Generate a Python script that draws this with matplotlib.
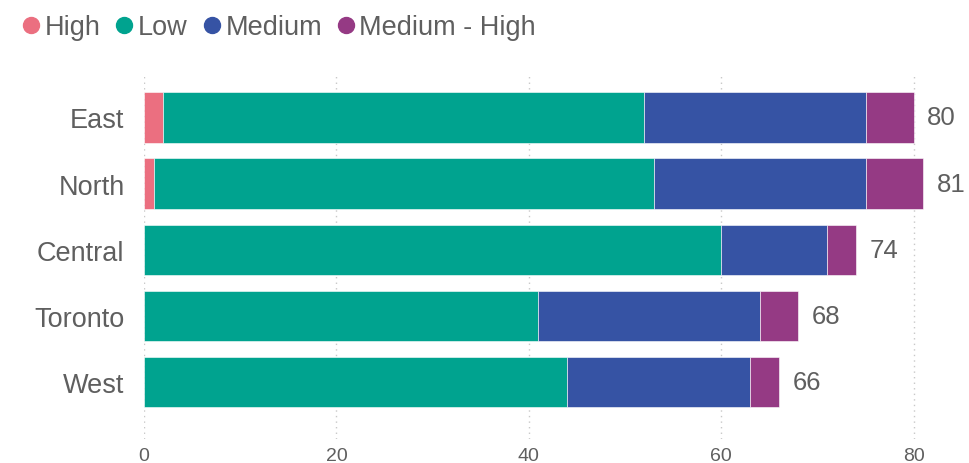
import matplotlib.pyplot as plt
from matplotlib.lines import Line2D
import numpy as np

plt.rcParams['font.family'] = ['Liberation Sans', 'DejaVu Sans']

regions = ['East', 'North', 'Central', 'Toronto', 'West']
high = [2, 1, 0, 0, 0]
low = [50, 52, 60, 41, 44]
medium = [23, 22, 11, 23, 19]
medium_high = [5, 6, 3, 4, 3]

series_names = ['High', 'Low', 'Medium', 'Medium - High']
series_colors = ['#EB6F80', '#00A38F', '#3653A4', '#953A84']
text_gray = '#5F5F5F'

fig = plt.figure(figsize=(9.69, 4.64), dpi=100)
ax = fig.add_axes([0.1486, 0.052, 0.842, 0.787])

y = np.arange(len(regions))
left = np.zeros(len(regions))
for vals, name, col in zip([high, low, medium, medium_high], series_names, series_colors):
    vals = np.array(vals, dtype=float)
    ax.barh(y, vals, left=left, height=0.76, color=col, edgecolor='white', linewidth=0.4, label=name)
    left += vals

# totals at the end of each bar
for yi, tot in zip(y, left):
    ax.text(tot + 1.4, yi, f'{int(tot)}', va='center', ha='left', fontsize=18.5, color=text_gray)

ax.set_xlim(0, 84.8)
ax.set_ylim(4.86, -0.66)
ax.set_yticks(y)
ax.set_yticklabels(regions, fontsize=19.5, color=text_gray)
ax.set_xticks([0, 20, 40, 60, 80])
ax.tick_params(axis='x', labelsize=14, colors=text_gray, length=0, pad=6)
ax.tick_params(axis='y', length=0, pad=14)
ax.grid(axis='x', linestyle=(0, (1, 3)), color='#C8C8C8', linewidth=1)
ax.set_axisbelow(True)
for s in ax.spines.values():
    s.set_visible(False)

handles = [Line2D([0], [0], marker='o', linestyle='', markersize=11.5, markerfacecolor=c,
                  markeredgecolor=c) for c in series_colors]
fig.legend(handles, series_names, loc='upper left', bbox_to_anchor=(-0.007, 1.02), ncol=4,
           frameon=False, fontsize=19.5, handletextpad=0.01, columnspacing=0.37,
           labelcolor=text_gray, handlelength=1.0)

fig.savefig('out.png', dpi=100)
